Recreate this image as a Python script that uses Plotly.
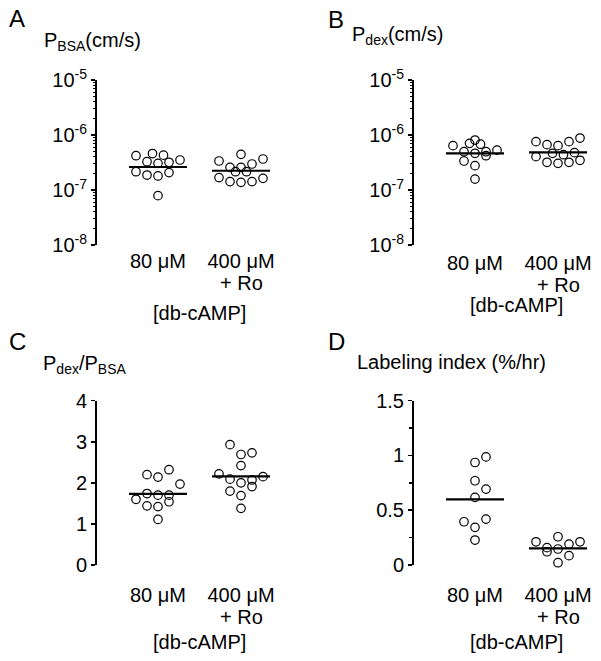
import plotly.graph_objects as go

W, H = 601, 661
FONT = "Liberation Sans, Arial, sans-serif"
FS = 20

groups = ["80 μM", "400 μM"]
group_sub = ["", "+ Ro"]
group_pos = [1, 2]

# Panel A: P_BSA (cm/s)
pbsa_80 = [4.2e-7, 4.6e-7, 4.3e-7, 3.27e-7, 3.05e-7, 3.19e-7, 3.51e-7, 2.15e-7, 1.87e-7, 1.80e-7, 2.07e-7, 7.9e-8]
pbsa_80_slot = [-2, -0.5, 0.5, -1, 0, 1, 2, -2, -1, 0, 1, 0]
pbsa_400 = [3.37e-7, 4.45e-7, 3.66e-7, 2.58e-7, 2.58e-7, 2.97e-7, 2.15e-7, 2.15e-7, 1.68e-7, 1.42e-7, 1.38e-7, 1.42e-7, 1.63e-7]
pbsa_400_slot = [-2, 0, 2, -1, 0, 1, -0.5, 0.5, -2, -1, 0, 1, 2]
pbsa_median = [2.62e-7, 2.24e-7]

# Panel B: P_dex (cm/s)
pdex_80 = [6.4e-7, 7.06e-7, 8.1e-7, 6.8e-7, 4.97e-7, 4.65e-7, 4.97e-7, 4.2e-7, 5.3e-7, 3.37e-7, 2.77e-7, 1.58e-7]
pdex_80_slot = [-2, -0.5, 0, 0.5, -1, 0, 1, 1, 2, -1, 0, 0]
pdex_400 = [7.57e-7, 6.67e-7, 6.4e-7, 7.57e-7, 8.8e-7, 4.65e-7, 4.38e-7, 4.78e-7, 4.04e-7, 3.19e-7, 3.05e-7, 3.19e-7, 3.47e-7]
pdex_400_slot = [-2, -1, 0, 1, 2, -0.5, 0.5, 1.5, -2, -1, 0, 1, 2]
pdex_median = [4.65e-7, 4.84e-7]

# Panel C: P_dex / P_BSA
ratio_80 = [2.20, 2.14, 2.32, 1.97, 1.74, 1.70, 1.70, 1.60, 1.44, 1.42, 1.54, 1.11]
ratio_80_slot = [-1, 0, 1, 2, -1, 0, 1, -2, -1, 0, 1, 0]
ratio_400 = [2.93, 2.69, 2.73, 2.42, 2.22, 2.15, 2.09, 2.00, 2.07, 1.91, 1.80, 1.69, 1.38]
ratio_400_slot = [-1, 0, 1, 0, -2, 2, -1, 0, 1, 1, -1, 0, 0]
ratio_median = [1.73, 2.16]

# Panel D: Labeling index (%/hr)
label_80 = [0.936, 0.987, 0.769, 0.693, 0.617, 0.395, 0.419, 0.344, 0.228]
label_80_slot = [0, 1, 0, 1, 0, -1, 1, 0, 0]
label_400 = [0.212, 0.258, 0.191, 0.212, 0.158, 0.146, 0.121, 0.085, 0.021]
label_400_slot = [-2, 0, 1, 2, -1, 0, -1, 1, 0]
label_median = [0.599, 0.152]

PX_PER_UNIT = 83.0
STEP = 11.0 / PX_PER_UNIT
HALF = 29.0 / PX_PER_UNIT

fig = go.Figure()

panels = [
    dict(ax="", vals=[pbsa_80, pbsa_400], slots=[pbsa_80_slot, pbsa_400_slot], med=pbsa_median),
    dict(ax="2", vals=[pdex_80, pdex_400], slots=[pdex_80_slot, pdex_400_slot], med=pdex_median),
    dict(ax="3", vals=[ratio_80, ratio_400], slots=[ratio_80_slot, ratio_400_slot], med=ratio_median),
    dict(ax="4", vals=[label_80, label_400], slots=[label_80_slot, label_400_slot], med=label_median),
]

for p in panels:
    xa = "x" + p["ax"]
    ya = "y" + p["ax"]
    for gi, (v, s) in enumerate(zip(p["vals"], p["slots"])):
        c = group_pos[gi]
        fig.add_trace(go.Scatter(
            x=[c + k * STEP for k in s], y=v, mode="markers",
            marker=dict(symbol="circle-open", size=8.5, color="black", line=dict(width=1.2, color="black")),
            xaxis=xa, yaxis=ya, showlegend=False, hoverinfo="skip", cliponaxis=False))
        fig.add_trace(go.Scatter(
            x=[c - HALF, c + HALF], y=[p["med"][gi]] * 2, mode="lines",
            line=dict(color="black", width=2.2),
            xaxis=xa, yaxis=ya, showlegend=False, hoverinfo="skip"))


def px(x):
    return x / W


def py(y):
    return 1 - y / H


def xrange_for(left_px, right_px, axis_px):
    c1 = axis_px + 61
    return [1 - (c1 - left_px) / PX_PER_UNIT, 1 + (right_px - c1) / PX_PER_UNIT]


xcommon = dict(showline=False, ticks="", showgrid=False, zeroline=False, automargin=False,
               tickvals=group_pos, ticktext=groups, tickfont=dict(size=FS, color="black"))

yline = dict(showline=True, linewidth=2, linecolor="black", ticks="outside", ticklen=4,
             tickwidth=1.5, tickcolor="black", showgrid=False, zeroline=False, automargin=False,
             tickfont=dict(size=FS, color="black"))

logticks = [1e-8, 1e-7, 1e-6, 1e-5]
logtext = ["10<sup>-8</sup>", "10<sup>-7</sup>", "10<sup>-6</sup>", "10<sup>-5</sup>"]
logminor = [m * d for d in logticks[:-1] for m in range(2, 10)]
minor_log = dict(tickvals=logminor, ticks="outside", ticklen=2.5, tickwidth=1,
                 tickcolor="black", showgrid=False)

topY = (80, 245)
botY = (400.7, 565)

fig.update_layout(
    template="none",
    width=W, height=H, margin=dict(l=0, r=0, t=0, b=0, autoexpand=False),
    paper_bgcolor="white", plot_bgcolor="white",
    font=dict(family=FONT, size=FS, color="black"),
    xaxis=dict(domain=[px(97), px(290)], range=xrange_for(97, 290, 97), anchor="y",
               ticklabelstandoff=2, **xcommon),
    yaxis=dict(domain=[py(topY[1]), py(topY[0])], type="log", range=[-8, -5], anchor="x",
               tickvals=logticks, ticktext=logtext, minor=minor_log, **yline),
    xaxis2=dict(domain=[px(414), px(601)], range=xrange_for(414, 601, 414), anchor="y2",
                ticklabelstandoff=4, **xcommon),
    yaxis2=dict(domain=[py(topY[1]), py(topY[0])], type="log", range=[-8, -5], anchor="x2",
                tickvals=logticks, ticktext=logtext, minor=minor_log, **yline),
    xaxis3=dict(domain=[px(97), px(290)], range=xrange_for(97, 290, 97), anchor="y3",
                ticklabelstandoff=16, **xcommon),
    yaxis3=dict(domain=[py(botY[1]), py(botY[0])], range=[0, 4], anchor="x3",
                tickvals=[0, 1, 2, 3, 4], ticktext=["0", "1", "2", "3", "4"], **yline),
    xaxis4=dict(domain=[px(414), px(601)], range=xrange_for(414, 601, 414), anchor="y4",
                ticklabelstandoff=16, **xcommon),
    yaxis4=dict(domain=[py(botY[1]), py(botY[0])], range=[0, 1.5], anchor="x4",
                tickvals=[0, 0.5, 1, 1.5], ticktext=["0", "0.5", "1", "1.5"],
                minor=dict(dtick=0.25, ticks="outside", ticklen=3, tickwidth=1.5,
                           tickcolor="black", showgrid=False),
                **yline),
)

ann = []
# Panel letters
for letter, x, y in [("A", 7, 18), ("B", 326, 20), ("C", 7, 341), ("D", 326, 341)]:
    ann.append(dict(text=letter, x=px(x), y=py(y), xref="paper", yref="paper",
                    xanchor="left", yanchor="middle", showarrow=False, font=dict(size=24)))
# Y titles
ann.append(dict(text="P<sub>BSA</sub>(cm/s)", x=px(42), y=py(42), xref="paper", yref="paper",
                xanchor="left", yanchor="middle", showarrow=False, font=dict(size=FS)))
ann.append(dict(text="P<sub>dex</sub>(cm/s)", x=px(350), y=py(36), xref="paper", yref="paper",
                xanchor="left", yanchor="middle", showarrow=False, font=dict(size=FS)))
ann.append(dict(text="P<sub>dex</sub>/P<sub>BSA</sub>", x=px(41), y=py(364), xref="paper", yref="paper",
                xanchor="left", yanchor="middle", showarrow=False, font=dict(size=FS)))
ann.append(dict(text="Labeling index (%/hr)", x=px(355), y=py(362), xref="paper", yref="paper",
                xanchor="left", yanchor="middle", showarrow=False, font=dict(size=FS)))
# Second line of the right-hand group label
for xr, yy in [("x", 283), ("x2", 285), ("x3", 617), ("x4", 617)]:
    ann.append(dict(text=group_sub[1], x=group_pos[1], y=py(yy), xref=xr, yref="paper",
                    xanchor="center", yanchor="middle", showarrow=False, font=dict(size=FS)))
# X titles
for xr, yy in [("x", 313), ("x2", 305), ("x3", 642), ("x4", 642)]:
    ann.append(dict(text="[db-cAMP]", x=1.5, y=py(yy), xref=xr, yref="paper",
                    xanchor="center", yanchor="middle", showarrow=False, font=dict(size=FS)))

fig.update_layout(annotations=ann)
fig.write_html("out.html", config={"displayModeBar": False, "staticPlot": True},
               post_script="document.body.style.margin='0';document.body.style.padding='0';")
